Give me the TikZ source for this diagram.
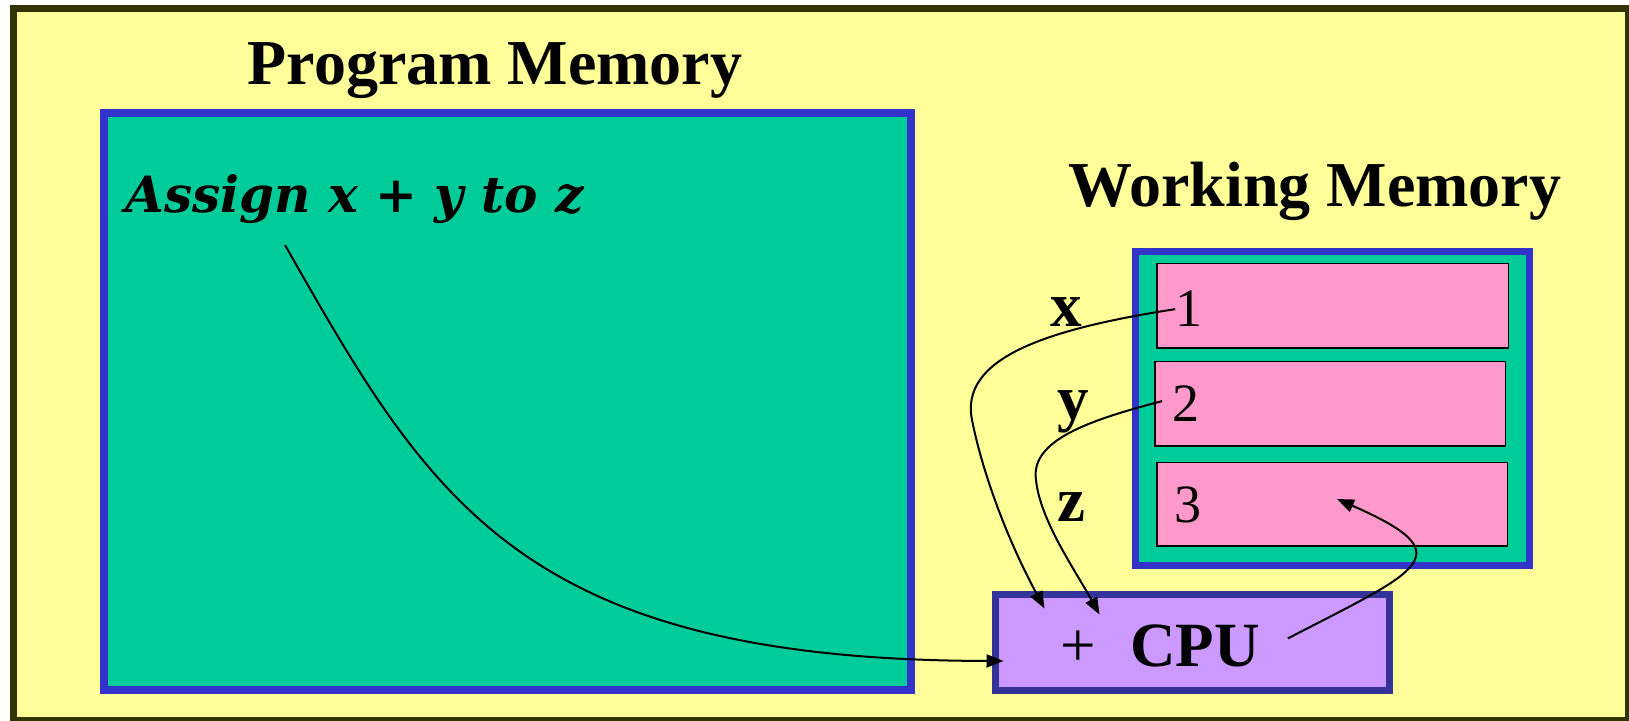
\documentclass[tikz,border=0pt]{standalone}
\usepackage{fontspec}
\setmainfont{Liberation Serif}
\newfontfamily\assignfont{DejaVu Serif}
\usepackage{xcolor}
\usetikzlibrary{arrows.meta, positioning}
\definecolor{slideyellow}{HTML}{FFFF99}
\definecolor{framedark}{HTML}{333300}
\definecolor{memgreen}{HTML}{00CC99}
\definecolor{memblue}{HTML}{3333CC}
\definecolor{cellpink}{HTML}{FF99CC}
\definecolor{cpuviolet}{HTML}{CC99FF}
\definecolor{cpuedge}{HTML}{333399}
\tikzstyle{memory} = [rectangle, 
draw=memblue, 
fill=memgreen, 
inner sep=0pt]
\tikzstyle{cell} = [rectangle, draw=black, fill=cellpink, line width=0.75pt, inner sep=0pt]
\tikzstyle{cpubox} = [rectangle, draw=cpuedge, fill=cpuviolet, line width=3.5pt, inner sep=0pt]
\tikzstyle{title} = [anchor=base, inner sep=0pt, font=\fontsize{32}{36}\selectfont\bfseries]
\tikzstyle{varname} = [anchor=base, inner sep=0pt, font=\fontsize{31.5}{36}\selectfont\bfseries]
\tikzstyle{value} = [anchor=base, inner sep=0pt, font=\fontsize{27}{32}\selectfont]
\tikzstyle{arrow} = [line width=1pt,-{Triangle[length=8.5pt,width=6.5pt]}]

\begin{document}
\begin{tikzpicture}[x=0.5pt, y=-0.5pt]
        \useasboundingbox (0,0) rectangle (1629,721);
        \fill[white] (0,0) rectangle (1629,721);
        \draw[line width=3.5pt, draw=framedark, fill=slideyellow] (13.5,9) rectangle (1628.5,720.5);

        % program memory
        \node[title] (pmtitle) at (495,85) {Program Memory};
        \node[memory, line width=4pt, minimum width=403.5pt, minimum height=288.5pt] (progmem) at (507.5,401.5) {};
        \node[anchor=base west, inner sep=0pt, font=\assignfont\fontsize{25}{30}\selectfont\bfseries\itshape] (assign) at (125,213) {Assign x + y to z};
        \coordinate (asgstart) at (285,245);

        % working memory
        \node[title] (wmtitle) at (1315,207) {Working Memory};
        \node[memory, line width=3.5pt, minimum width=197pt, minimum height=157pt] (workmem) at (1332.5,408.5) {};
        \node[cell, minimum width=175.75pt, minimum height=42.25pt] (cell1) at (1332.5,306) {};
        \node[cell, minimum width=175.25pt, minimum height=42.25pt] (cell2) at (1330,404) {};
        \node[cell, minimum width=175.25pt, minimum height=41.75pt] (cell3) at (1332,504.5) {};
        \node[value] (val1) at (1189,327) {1};
        \node[value] (val2) at (1186,422) {2};
        \node[value] (val3) at (1188,523) {3};
        \node[varname] (varx) at (1066,327) {x};
        \node[varname] (vary) at (1073,420) {y};
        \node[varname] (varz) at (1071,522) {z};

        % cpu
        \node[cpubox, minimum width=197pt, minimum height=48pt] (cpu) at (1192.5,642.5) {};
        \node[anchor=base west, inner sep=0pt, font=\fontsize{31.5}{36}\selectfont] (cpulbl) at (1060,667) {+\hspace{17.25pt}\textbf{CPU}};

        \draw[arrow] (asgstart) .. controls (430,500) and (520,660) .. ([xshift=5.75pt,yshift=-9.25pt]cpu.west);
        \draw[arrow] (val1.west) .. controls (1040,330) and (960,360) .. (972,420)
            .. controls (982,470) and (1005,535) .. ([xshift=26.25pt,yshift=-8.75pt]cpu.north west);
        \draw[arrow] ([xshift=-5pt,yshift=1.5pt]val2.west) .. controls (1090,420) and (1030,440) .. (1036,480)
            .. controls (1040,520) and (1075,570) .. ([xshift=53.75pt,yshift=-11.75pt]cpu.north west);
        \draw[arrow] ([xshift=13.75pt,yshift=4pt]cpulbl.east) .. controls (1420,570) and (1465,555) .. ([xshift=2.5pt,yshift=2.75pt]cell3.center);
    \end{tikzpicture}
\end{document}
